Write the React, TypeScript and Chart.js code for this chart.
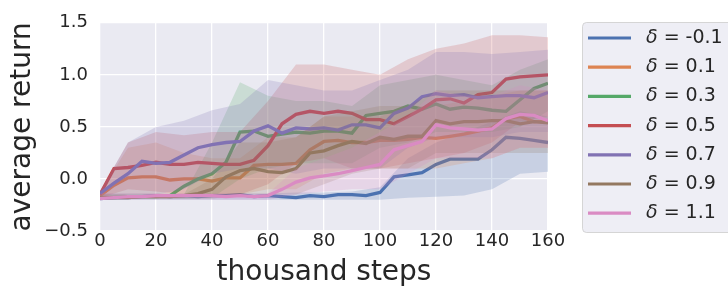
import { useEffect, useRef } from "react";
import { Chart, registerables } from "chart.js";

Chart.register(...registerables);

// ---------- data ----------
const steps = [0, 5, 10, 15, 20, 25, 30, 35, 40, 45, 50, 55, 60, 65, 70, 75, 80, 85, 90, 95, 100, 105, 110, 115, 120, 125, 130, 135, 140, 145, 150, 155, 160];
const bandSteps = [0, 10, 20, 30, 40, 50, 60, 70, 80, 90, 100, 110, 120, 130, 140, 150, 160];

const deltaLabels = ["-0.1", "0.1", "0.3", "0.5", "0.7", "0.9", "1.1"];
const seriesColors = ["#4c72b0", "#dd8452", "#55a868", "#c44e52", "#8172b3", "#937860", "#da8bc3"];

const meanNeg01 = [-0.19, -0.18, -0.18, -0.17, -0.16, -0.17, -0.16, -0.17, -0.16, -0.16, -0.15, -0.17, -0.16, -0.17, -0.18, -0.16, -0.17, -0.15, -0.15, -0.16, -0.13, 0.02, 0.04, 0.06, 0.14, 0.19, 0.19, 0.19, 0.28, 0.4, 0.39, 0.37, 0.35];
const mean01 = [-0.16, -0.06, 0.01, 0.02, 0.02, -0.01, 0.0, 0.0, -0.02, 0.01, 0.01, 0.13, 0.14, 0.14, 0.15, 0.28, 0.36, 0.37, 0.35, 0.35, 0.37, 0.37, 0.38, 0.4, 0.39, 0.41, 0.43, 0.46, 0.49, 0.58, 0.6, 0.55, 0.55];
const mean03 = [-0.18, -0.18, -0.17, -0.17, -0.17, -0.16, -0.07, 0.0, 0.05, 0.16, 0.45, 0.46, 0.41, 0.43, 0.45, 0.44, 0.46, 0.46, 0.44, 0.61, 0.63, 0.65, 0.7, 0.67, 0.72, 0.67, 0.69, 0.68, 0.66, 0.65, 0.76, 0.87, 0.92];
const mean05 = [-0.15, 0.1, 0.11, 0.13, 0.16, 0.14, 0.14, 0.16, 0.15, 0.14, 0.14, 0.18, 0.32, 0.53, 0.62, 0.65, 0.63, 0.65, 0.63, 0.57, 0.57, 0.53, 0.6, 0.67, 0.76, 0.77, 0.73, 0.81, 0.83, 0.96, 0.98, 0.99, 1.0];
const mean07 = [-0.14, -0.04, 0.05, 0.17, 0.15, 0.16, 0.23, 0.3, 0.33, 0.35, 0.36, 0.46, 0.51, 0.44, 0.49, 0.48, 0.49, 0.47, 0.52, 0.52, 0.49, 0.63, 0.68, 0.79, 0.82, 0.8, 0.81, 0.78, 0.79, 0.8, 0.8, 0.78, 0.83];
const mean09 = [-0.18, -0.18, -0.18, -0.17, -0.17, -0.17, -0.16, -0.14, -0.1, 0.02, 0.08, 0.1, 0.07, 0.06, 0.1, 0.25, 0.27, 0.32, 0.36, 0.34, 0.4, 0.38, 0.41, 0.41, 0.56, 0.53, 0.55, 0.55, 0.56, 0.56, 0.53, 0.55, 0.54];
const mean11 = [-0.19, -0.18, -0.17, -0.17, -0.16, -0.16, -0.16, -0.16, -0.16, -0.17, -0.16, -0.17, -0.16, -0.1, -0.03, 0.01, 0.03, 0.05, 0.08, 0.11, 0.14, 0.28, 0.32, 0.36, 0.52, 0.49, 0.48, 0.47, 0.48, 0.58, 0.62, 0.61, 0.56];

const upperNeg01 = [-0.14, -0.14, -0.14, -0.14, -0.14, -0.14, -0.14, -0.13, -0.13, -0.12, -0.08, 0.2, 0.35, 0.45, 0.55, 0.65, 0.6];
const lowerNeg01 = [-0.2, -0.2, -0.2, -0.2, -0.2, -0.2, -0.2, -0.2, -0.2, -0.2, -0.2, -0.18, -0.17, -0.16, -0.1, 0.05, 0.07];
const upper01 = [-0.12, 0.3, 0.35, 0.25, 0.2, 0.2, 0.4, 0.4, 0.6, 0.6, 0.6, 0.7, 0.7, 0.75, 0.8, 0.85, 0.85];
const lower01 = [-0.18, -0.15, -0.15, -0.15, -0.15, -0.15, -0.1, -0.1, 0.05, 0.1, 0.1, 0.1, 0.1, 0.15, 0.2, 0.3, 0.3];
const upper03 = [-0.15, -0.15, -0.15, -0.15, 0.35, 0.93, 0.8, 0.75, 0.75, 0.7, 0.9, 0.95, 1.0, 0.95, 0.9, 1.05, 1.15];
const lower03 = [-0.19, -0.19, -0.19, -0.19, -0.18, 0.0, 0.1, 0.15, 0.15, 0.15, 0.3, 0.35, 0.45, 0.45, 0.45, 0.5, 0.65];
const upper05 = [-0.12, 0.35, 0.45, 0.42, 0.45, 0.45, 0.75, 1.1, 1.1, 1.05, 1.0, 1.15, 1.25, 1.3, 1.38, 1.38, 1.36];
const lower05 = [-0.18, -0.1, -0.12, -0.15, -0.15, -0.15, -0.05, 0.15, 0.2, 0.1, 0.1, 0.15, 0.2, 0.25, 0.35, 0.55, 0.6];
const upper07 = [-0.12, 0.35, 0.5, 0.56, 0.66, 0.72, 0.95, 0.9, 0.85, 0.85, 0.95, 1.05, 1.22, 1.22, 1.2, 1.22, 1.24];
const lower07 = [-0.18, -0.15, -0.15, -0.1, 0.05, 0.1, 0.1, 0.05, 0.1, 0.1, 0.1, 0.3, 0.4, 0.4, 0.4, 0.45, 0.45];
const upper09 = [-0.15, -0.15, -0.15, -0.15, 0.0, 0.35, 0.35, 0.4, 0.6, 0.65, 0.7, 0.7, 0.85, 0.85, 0.85, 0.85, 0.85];
const lower09 = [-0.19, -0.19, -0.19, -0.19, -0.19, -0.15, -0.15, -0.15, -0.05, 0.05, 0.1, 0.1, 0.25, 0.25, 0.25, 0.25, 0.25];
const upper11 = [-0.14, -0.14, -0.14, -0.14, -0.14, -0.14, -0.14, 0.1, 0.2, 0.3, 0.45, 0.6, 0.85, 0.8, 0.8, 0.9, 0.85];
const lower11 = [-0.2, -0.2, -0.2, -0.2, -0.2, -0.2, -0.2, -0.15, -0.12, -0.1, -0.1, 0.05, 0.2, 0.2, 0.2, 0.3, 0.3];

const means = [meanNeg01, mean01, mean03, mean05, mean07, mean09, mean11];
const uppers = [upperNeg01, upper01, upper03, upper05, upper07, upper09, upper11];
const lowers = [lowerNeg01, lower01, lower03, lower05, lower07, lower09, lower11];

const xTicks = [0, 20, 40, 60, 80, 100, 120, 140, 160];
const yTicks = [-0.5, 0, 0.5, 1.0, 1.5];
const yTickLabels = ["\u22120.5", "0.0", "0.5", "1.0", "1.5"];

const FONT = '"DejaVu Sans", sans-serif';
const TEXT = "#262626";

function rgba(hex: string, a: number) {
  const n = parseInt(hex.slice(1), 16);
  return `rgba(${(n >> 16) & 255},${(n >> 8) & 255},${n & 255},${a})`;
}

const bgPlugin = {
  id: "bgPlugin",
  beforeDraw(chart: any) {
    const { ctx, chartArea } = chart;
    ctx.save();
    ctx.fillStyle = "#ffffff";
    ctx.fillRect(0, 0, chart.width, chart.height);
    ctx.fillStyle = "#eaeaf2";
    ctx.fillRect(chartArea.left, chartArea.top, chartArea.right - chartArea.left, chartArea.bottom - chartArea.top);
    ctx.restore();
  },
};

const legendPlugin = {
  id: "customLegend",
  afterDraw(chart: any) {
    const ctx = chart.ctx;
    const entries = chart.data.datasets.filter((d: any) => d.isMean);
    ctx.save();
    ctx.beginPath();
    ctx.roundRect(582.5, 22.5, 170, 210, 4);
    ctx.fillStyle = "rgba(234,234,242,0.8)";
    ctx.fill();
    ctx.strokeStyle = "rgba(204,204,204,0.8)";
    ctx.lineWidth = 1;
    ctx.stroke();
    entries.forEach((d: any, i: number) => {
      const y = 38 + i * 29.2;
      ctx.beginPath();
      ctx.moveTo(588, y);
      ctx.lineTo(631, y);
      ctx.strokeStyle = d.borderColor;
      ctx.lineWidth = 3.2;
      ctx.lineCap = "butt";
      ctx.stroke();
      ctx.fillStyle = TEXT;
      ctx.textBaseline = "middle";
      ctx.textAlign = "left";
      ctx.font = `italic 19px ${FONT}`;
      ctx.fillText("\u03b4", 646, y);
      const w = ctx.measureText("\u03b4").width;
      ctx.font = `19px ${FONT}`;
      ctx.fillText(" = " + d.deltaLabel, 646 + w, y);
    });
    ctx.restore();
  },
};

export default function App() {
  const ref = useRef<HTMLCanvasElement | null>(null);

  useEffect(() => {
    if (!ref.current) return;
    const datasets: any[] = [];
    means.forEach((m, i) => {
      const c = seriesColors[i];
      const base = 100 - i * 3;
      datasets.push({
        label: "upper" + i,
        data: bandSteps.map((x, k) => ({ x, y: uppers[i][k] })),
        borderColor: "transparent",
        backgroundColor: "transparent",
        borderWidth: 0,
        pointRadius: 0,
        fill: false,
        order: base,
      });
      datasets.push({
        label: "lower" + i,
        data: bandSteps.map((x, k) => ({ x, y: lowers[i][k] })),
        borderColor: "transparent",
        backgroundColor: rgba(c, 0.21),
        borderWidth: 0,
        pointRadius: 0,
        fill: "-1",
        order: base - 1,
      });
      datasets.push({
        label: "\u03b4 = " + deltaLabels[i],
        deltaLabel: deltaLabels[i],
        isMean: true,
        data: steps.map((x, k) => ({ x, y: m[k] })),
        borderColor: c,
        backgroundColor: c,
        borderWidth: 3.3,
        pointRadius: 0,
        fill: false,
        order: base - 2,
      });
    });

    const chart = new Chart(ref.current, {
      type: "line",
      data: { datasets },
      plugins: [bgPlugin, legendPlugin],
      options: {
        animation: false,
        responsive: false,
        maintainAspectRatio: false,
        layout: { padding: { left: 0, right: 180, top: 14, bottom: 0 } },
        elements: { line: { tension: 0 }, point: { radius: 0 } },
        plugins: {
          legend: { display: false },
          tooltip: { enabled: false },
          filler: { propagate: false },
        },
        scales: {
          x: {
            type: "linear",
            min: 0,
            max: 160,
            afterFit(scale: any) {
              scale.height = 60;
            },
            afterBuildTicks(scale: any) {
              scale.ticks = xTicks.map((v) => ({ value: v }));
            },
            ticks: {
              color: TEXT,
              font: { family: FONT, size: 18 },
              padding: 0,
              maxRotation: 0,
              autoSkip: false,
              callback: (v: any) => String(v),
            },
            grid: { color: "#ffffff", lineWidth: 1.3, drawTicks: false },
            border: { display: false },
            title: {
              display: true,
              text: "thousand steps",
              color: TEXT,
              font: { family: FONT, size: 28 },
              padding: { top: 0, bottom: 1 },
            },
          },
          y: {
            type: "linear",
            min: -0.5,
            max: 1.5,
            afterFit(scale: any) {
              scale.width = 100;
            },
            afterBuildTicks(scale: any) {
              scale.ticks = yTicks.map((v) => ({ value: v }));
            },
            ticks: {
              color: TEXT,
              font: { family: FONT, size: 18 },
              padding: 12,
              autoSkip: false,
              callback: (_v: any, idx: number) => yTickLabels[idx],
            },
            grid: { color: "#ffffff", lineWidth: 1.3, drawTicks: false },
            border: { display: false },
            title: {
              display: true,
              text: "average return",
              color: TEXT,
              font: { family: FONT, size: 28 },
              padding: { top: 6, bottom: 0 },
            },
          },
        },
      } as any,
    });
    return () => chart.destroy();
  }, []);

  return (
    <div style={{ position: "fixed", left: 0, top: 0, width: 728, height: 291, background: "#fff" }}>
      <canvas ref={ref} width={728} height={291} style={{ width: 728, height: 291, display: "block" }} />
    </div>
  );
}
